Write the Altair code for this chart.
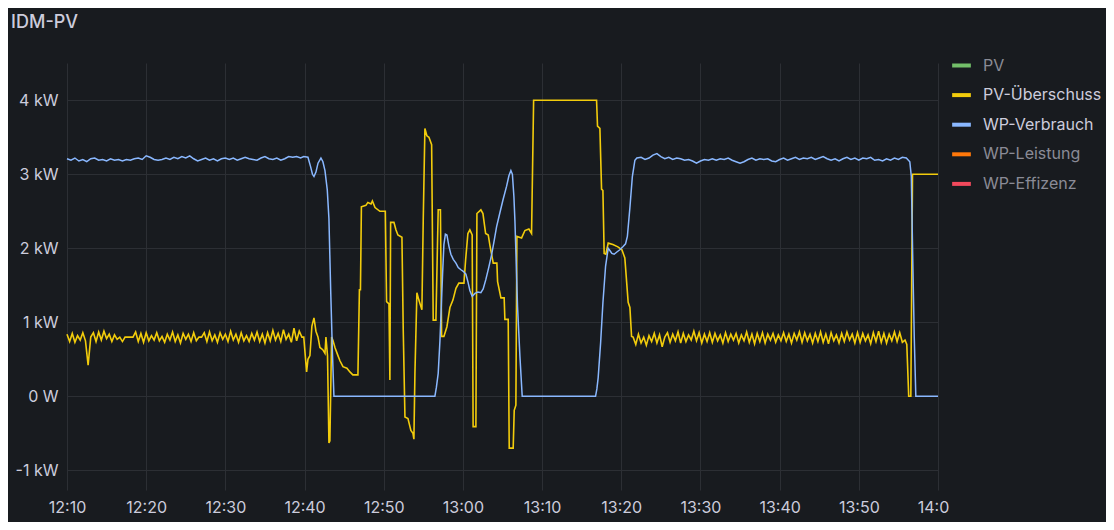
import altair as alt
import pandas as pd

# ---------------- data ----------------
series_names = ["PV", "PV-Überschuss", "WP-Verbrauch", "WP-Leistung", "WP-Effizenz"]
series_colors = ["#73BF69", "#F2CC0C", "#8AB8FF", "#FF780A", "#F2495C"]
visible_series = ["PV-Überschuss", "WP-Verbrauch"]

x_tick_labels = ["12:10", "12:20", "12:30", "12:40", "12:50", "13:00",
                 "13:10", "13:20", "13:30", "13:40", "13:50", "14:00"]
y_tick_values = [-1000, 0, 1000, 2000, 3000, 4000]

ueb_step_min = 1 / 3   # sampling interval of the regular stretches of PV-Überschuss
wp_step_min = 0.5      # sampling interval of the regular stretches of WP-Verbrauch

# PV-Überschuss (kW), minutes after 12:10
ueb_a_start = 0.0
ueb_a_kw = [0.84, 0.74, 0.85, 0.73, 0.82, 0.76, 0.86, 0.75, 0.42, 0.80, 0.86, 0.74, 0.87, 0.76, 0.88, 0.78, 0.84, 0.74,
            0.83, 0.77, 0.80, 0.74, 0.80, 0.80, 0.80, 0.80, 0.87, 0.74, 0.85, 0.73, 0.86, 0.75, 0.82, 0.76, 0.86, 0.75,
            0.81, 0.73, 0.84, 0.76, 0.87, 0.74, 0.83, 0.72, 0.85, 0.77, 0.84, 0.74, 0.86, 0.75, 0.80, 0.80, 0.86, 0.74,
            0.87, 0.75, 0.83, 0.73, 0.86, 0.77, 0.84, 0.74, 0.88, 0.76, 0.84, 0.73, 0.86, 0.75, 0.82, 0.74, 0.85, 0.76,
            0.87, 0.74, 0.84, 0.72, 0.86, 0.75, 0.89, 0.76, 0.85, 0.74, 0.90, 0.77, 0.84, 0.73, 0.92, 0.75, 0.88, 0.80]
ueb_b_min = [29.9, 30.26, 30.43, 30.68, 30.93, 31.19, 31.44, 31.7, 31.94, 32.3,
             32.58, 32.7, 32.9, 33.08, 33.2, 33.42, 33.6, 33.84, 34.22, 34.47,
             34.85, 35.35, 35.73, 36.1, 36.74, 36.93, 37.06, 37.18, 37.75, 38.0,
             38.4, 38.57, 38.9, 39.52, 40.2, 40.36, 40.66, 40.78, 40.87, 41.29,
             41.54, 41.79, 42.3, 42.46, 42.68, 43.06, 43.43, 43.69, 43.81, 43.94,
             44.19, 44.44, 44.82, 44.99, 45.2, 45.45, 45.71, 46.05, 46.25, 46.59,
             46.88, 47.16, 47.31, 47.6, 47.98, 48.36, 48.74, 49.12, 49.49, 50.13,
             50.34, 50.63, 50.88, 51.17, 51.29, 51.64, 51.77, 52.27, 52.53, 52.87,
             53.2, 53.41, 53.83, 54.29, 54.38, 54.8, 55.21, 55.3, 55.72, 55.85,
             56.35, 56.48, 56.69, 56.82, 57.41, 57.83, 58.33, 58.67, 58.93, 66.88,
             67.0, 67.3, 67.51, 67.68, 67.84, 68.05, 68.35, 68.94, 69.57, 70.08,
             70.45, 70.87, 71.09, 71.3]
ueb_b_kw = [0.80, 0.33, 0.50, 0.55, 0.95, 1.06, 0.88, 0.80, 0.66, 0.63,
            0.58, 0.80, 0.55, -0.63, -0.60, 0.80, 0.75, 0.66, 0.55, 0.48,
            0.40, 0.38, 0.33, 0.29, 0.29, 1.44, 1.44, 2.56, 2.58, 2.62,
            2.60, 2.64, 2.55, 2.50, 2.50, 1.28, 1.25, 0.22, 2.35, 2.35,
            2.25, 2.18, 2.15, 0.92, -0.28, -0.30, -0.46, -0.50, -0.58, 0.31,
            1.40, 1.30, 1.17, 2.38, 3.62, 3.52, 3.50, 3.40, 1.03, 1.03,
            2.52, 2.52, 0.81, 0.81, 0.94, 1.20, 1.30, 1.46, 1.53, 1.53,
            1.84, 2.20, 2.25, 2.18, -0.41, -0.41, 2.47, 2.52, 2.47, 2.20,
            2.18, 2.04, 1.80, 1.80, 1.55, 1.33, 1.33, 1.04, 1.04, -0.70,
            -0.70, -0.19, -0.12, 2.16, 2.14, 2.24, 2.26, 2.20, 4.00, 4.00,
            3.65, 3.62, 2.80, 2.78, 1.93, 1.92, 2.07, 2.05, 2.02, 1.98,
            1.87, 1.27, 1.20, 0.81]
ueb_c_start = 71.5
ueb_c_kw = [0.80, 0.70, 0.84, 0.72, 0.80, 0.69, 0.82, 0.74, 0.85, 0.72, 0.83, 0.67, 0.80, 0.86, 0.73, 0.84, 0.75, 0.87, 0.72, 0.85,
            0.74, 0.83, 0.76, 0.88, 0.75, 0.86, 0.72, 0.84, 0.74, 0.86, 0.73, 0.85, 0.75, 0.83, 0.72, 0.86, 0.74, 0.84, 0.76, 0.85,
            0.72, 0.83, 0.75, 0.87, 0.73, 0.84, 0.71, 0.85, 0.74, 0.86, 0.72, 0.84, 0.76, 0.85, 0.73, 0.83, 0.75, 0.86, 0.74, 0.84,
            0.72, 0.85, 0.76, 0.87, 0.73, 0.86, 0.75, 0.84, 0.72, 0.85, 0.74, 0.87, 0.73, 0.84, 0.71, 0.86, 0.75, 0.83, 0.72, 0.85,
            0.74, 0.87, 0.76, 0.84, 0.72, 0.86, 0.73, 0.85, 0.75, 0.83, 0.71, 0.86, 0.74, 0.88, 0.73, 0.85, 0.72, 0.84, 0.75, 0.87,
            0.74, 0.86, 0.73, 0.76]
ueb_d_min = [106.06, 106.3, 106.57, 106.78, 110.0]
ueb_d_kw = [0.70, 0.0, 0.0, 3.0, 3.0]

# WP-Verbrauch (kW), minutes after 12:10
wp_a_start = 0.0
wp_a_kw = [3.21, 3.19, 3.22, 3.18, 3.20, 3.17, 3.21, 3.22, 3.19, 3.20,
           3.18, 3.21, 3.19, 3.20, 3.18, 3.20, 3.19, 3.21, 3.22, 3.20,
           3.25, 3.23, 3.20, 3.19, 3.20, 3.22, 3.20, 3.23, 3.21, 3.24,
           3.22, 3.25, 3.21, 3.18, 3.20, 3.22, 3.19, 3.21, 3.18, 3.21,
           3.22, 3.20, 3.22, 3.19, 3.21, 3.23, 3.21, 3.20, 3.19, 3.22,
           3.24, 3.21, 3.20, 3.22, 3.19, 3.21, 3.24, 3.23, 3.24, 3.22]
wp_b_min = [29.9, 30.43, 30.77, 31.0, 31.19, 31.44, 31.7, 32.07, 32.32, 32.58,
            32.87, 33.08, 33.3, 33.52, 33.71, 46.46, 46.65, 46.88, 47.1, 47.44,
            47.6, 47.79, 47.98, 48.23, 48.48, 48.78, 49.12, 49.41, 49.75, 50.04,
            50.38, 50.63, 50.88, 51.17, 51.52, 51.89, 52.27, 52.56, 52.9, 53.28,
            53.62, 53.91, 54.25, 54.67, 55.05, 55.52, 55.81, 56.06, 56.25, 56.44,
            56.57, 56.9, 57.2, 57.49, 66.75, 66.92, 67.08, 67.39, 67.68, 68.02,
            68.35, 68.56, 68.81, 69.1, 69.44, 69.82, 70.2, 70.54, 70.77, 71.09,
            71.4, 71.72, 71.97]
wp_b_kw = [3.24, 3.23, 3.10, 3.00, 2.97, 3.03, 3.15, 3.22, 3.17, 3.05,
           2.79, 2.40, 1.44, 0.60, 0.0, 0.0, 0.12, 0.31, 0.75, 1.67,
           2.05, 2.19, 2.18, 2.03, 1.92, 1.85, 1.80, 1.74, 1.71, 1.69,
           1.65, 1.55, 1.43, 1.35, 1.39, 1.41, 1.40, 1.45, 1.58, 1.75,
           1.91, 2.08, 2.29, 2.48, 2.65, 2.84, 2.98, 3.05, 3.00, 2.70,
           2.37, 1.21, 0.54, 0.0, 0.0, 0.10, 0.25, 0.72, 1.26, 1.76,
           2.00, 1.97, 1.93, 1.92, 1.95, 1.98, 2.02, 2.06, 2.16, 2.55,
           2.97, 3.19, 3.22]
wp_c_start = 72.5
wp_c_kw = [3.23, 3.20, 3.22, 3.26, 3.28, 3.24, 3.21, 3.23, 3.20, 3.22,
           3.21, 3.19, 3.20, 3.18, 3.15, 3.18, 3.20, 3.19, 3.21, 3.19,
           3.21, 3.20, 3.22, 3.19, 3.17, 3.15, 3.17, 3.20, 3.22, 3.19,
           3.21, 3.20, 3.21, 3.18, 3.17, 3.20, 3.22, 3.19, 3.21, 3.23,
           3.20, 3.22, 3.21, 3.23, 3.20, 3.22, 3.24, 3.21, 3.19, 3.21,
           3.18, 3.21, 3.23, 3.20, 3.22, 3.19, 3.22, 3.21, 3.23, 3.19,
           3.20, 3.18, 3.21, 3.19, 3.22, 3.20, 3.23]
wp_d_min = [106.0, 106.44, 106.63, 106.82, 107.0, 107.2, 110.0]
wp_d_kw = [3.22, 3.17, 2.97, 1.80, 0.80, 0.0, 0.0]

# ---------------- table ----------------
base = pd.Timestamp("2024-01-01 12:10:00")


def regular(start, step, values):
    return [start + i * step for i in range(len(values))], list(values)


def build(series, parts):
    mins, kws = [], []
    for m, v in parts:
        mins += list(m)
        kws += list(v)
    return pd.DataFrame({
        "time": [base + pd.Timedelta(minutes=m) for m in mins],
        "value": [v * 1000 for v in kws],
        "series": series,
    })


df_ueb = build("PV-Überschuss", [regular(ueb_a_start, ueb_step_min, ueb_a_kw), (ueb_b_min, ueb_b_kw),
                                 regular(ueb_c_start, ueb_step_min, ueb_c_kw), (ueb_d_min, ueb_d_kw)])
df_wp = build("WP-Verbrauch", [regular(wp_a_start, wp_step_min, wp_a_kw), (wp_b_min, wp_b_kw),
                               regular(wp_c_start, wp_step_min, wp_c_kw), (wp_d_min, wp_d_kw)])


def to_dt(label):
    h, m = label.split(":")
    return alt.DateTime(year=2024, month=1, date=1, hours=int(h), minutes=int(m))


x_ticks = [to_dt(t) for t in x_tick_labels]

# ---------------- style ----------------
BG = "#181b1f"
GRID = "#2c2f34"
TXT = "#ccccdc"
DIM = "#8a8b96"
FONT = "Inter"

label_color_expr = ("indexof(" + str(visible_series) + ", datum.label) >= 0 ? '"
                    + TXT + "' : '" + DIM + "'")

color = alt.Color(
    "series:N",
    scale=alt.Scale(domain=series_names, range=series_colors),
    legend=alt.Legend(
        title=None, orient="none", legendX=883, legendY=-9, direction="vertical",
        labelFont=FONT, labelFontSize=16, labelColor=alt.ExprRef(label_color_expr),
        symbolType="stroke", symbolSize=350, symbolStrokeWidth=4,
        labelOffset=10, rowPadding=9.6, padding=0,
    ),
)

last_tick_test = "timeFormat(datum.value, '%H:%M') == '14:00'"

x = alt.X(
    "time:T",
    scale=alt.Scale(domain=[x_ticks[0], x_ticks[-1]], nice=False),
    axis=alt.Axis(
        values=x_ticks, title=None, grid=True, gridColor=GRID, domain=False, ticks=False,
        labelPadding=9, labelFont=FONT, labelFontSize=16, labelColor=TXT,
        labelFlush=False, labelOverlap=False,
        labelOffset={"condition": {"test": last_tick_test, "value": -5}, "value": 0},
        labelExpr=last_tick_test + " ? '14:0' : timeFormat(datum.value, '%H:%M')",
    ),
)

y = alt.Y(
    "value:Q",
    scale=alt.Scale(domain=[-1266, 4504], nice=False, zero=False),
    axis=alt.Axis(
        values=y_tick_values, title=None, grid=True, gridColor=GRID, domain=False, ticks=False,
        labelPadding=9, labelFont=FONT, labelFontSize=16, labelColor=TXT,
        labelExpr="datum.value == 0 ? '0 W' : (datum.value / 1000) + ' kW'",
    ),
)

ueb_layer = alt.Chart(df_ueb).mark_line(strokeWidth=1.6).encode(x=x, y=y, color=color)
wp_layer = alt.Chart(df_wp).mark_line(strokeWidth=1.5).encode(x=x, y=y, color=color)

chart = alt.layer(ueb_layer, wp_layer).properties(
    width=871, height=427,
    title=alt.TitleParams("IDM-PV", anchor="start", dx=-4, fontSize=18, fontWeight=500,
                          color=TXT, font=FONT, offset=22),
    autosize=alt.AutoSizeParams(type="none"),
    padding={"left": 59, "top": 55, "right": 168, "bottom": 32},
    background=BG,
).configure_view(stroke=None)

chart.save("out.html", embed_options={"renderer": "svg", "actions": False})
